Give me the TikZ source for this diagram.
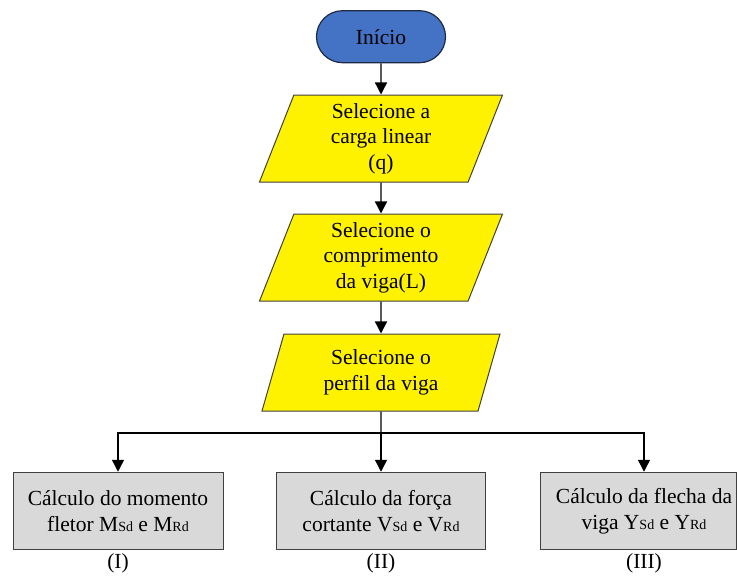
\documentclass[tikz,border=0pt]{standalone}
\usepackage{fontspec}
\setmainfont{Liberation Serif}
\usetikzlibrary{arrows.meta,shapes.geometric,shapes.misc,calc}

\definecolor{startblue}{HTML}{4472C4}
\definecolor{startline}{HTML}{1F2A44}
\definecolor{calcgray}{HTML}{D9D9D9}
\definecolor{boxline}{HTML}{404040}

% smaller index letters set on the baseline (Sd, Rd)
\newcommand{\idx}[1]{{\fontsize{14}{14}\selectfont #1}}

\begin{document}
\begin{tikzpicture}[x=1pt,y=-1pt,
  every node/.style={font=\fontsize{21.5}{25.5}\selectfont, text=black},
  startbox/.style={rounded rectangle, draw=startline, fill=startblue, line width=1.2pt,
    minimum width=129pt, minimum height=52pt, inner sep=0pt},
  inputbox/.style={trapezium, trapezium left angle=64, trapezium right angle=116,
    trapezium stretches body, draw=boxline, fill=yellow, line width=1pt,
    align=center, inner sep=0pt},
  calcbox/.style={rectangle, draw=boxline, fill=calcgray, line width=1pt,
    align=center, minimum height=77.5pt, inner sep=0pt},
  flow/.style={line width=1.4pt, -{Triangle[width=12pt,length=12pt]}},
  plainline/.style={line width=1.4pt}
]
\useasboundingbox (0,0) rectangle (737,576);

% start
\node[startbox] (start) at (381,36.7) {Início};

% input steps
\node[inputbox, minimum width=243pt, minimum height=87pt] (p1) at (381,138.5)
  {Selecione a\\carga linear\\(q)};
\node[inputbox, minimum width=243pt, minimum height=87pt] (p2) at (381,257.5)
  {Selecione o\\comprimento\\da viga(L)};
\node[inputbox, minimum width=238pt, minimum height=77pt] (p3) at (381,372.5)
  {Selecione o\\perfil da viga};

% calculation blocks
\node[calcbox, minimum width=210pt] (c1) at (118,511)
  {Cálculo do momento\\fletor M\idx{Sd} e M\idx{Rd}};
\node[calcbox, minimum width=209pt] (c2) at (381,511)
  {Cálculo da força\\cortante V\idx{Sd} e V\idx{Rd}};
\node[calcbox, minimum width=196pt] (c3) at (638,511)
  {\hspace*{12pt}Cálculo da flecha da\\\hspace*{12pt}viga Y\idx{Sd} e Y\idx{Rd}};

% block labels
\node (l1) at (118,563) {(I)};
\node (l2) at (381,563) {(II)};
\node (l3) at (644,563) {(III)};

% connectors
\draw[flow] (start) -- (p1);
\draw[flow] (p1) -- (p2);
\draw[flow] (p2) -- (p3);
\coordinate (split) at (381,433);
\coordinate (c3in) at ($(c3.north)+(6,0)$);
\draw[plainline] (p3.south) -- (split);
\draw[flow] (split) -| (c1.north);
\draw[flow] (split) -- (c2.north);
\draw[flow] (split) -| (c3in);
\end{tikzpicture}
\end{document}
